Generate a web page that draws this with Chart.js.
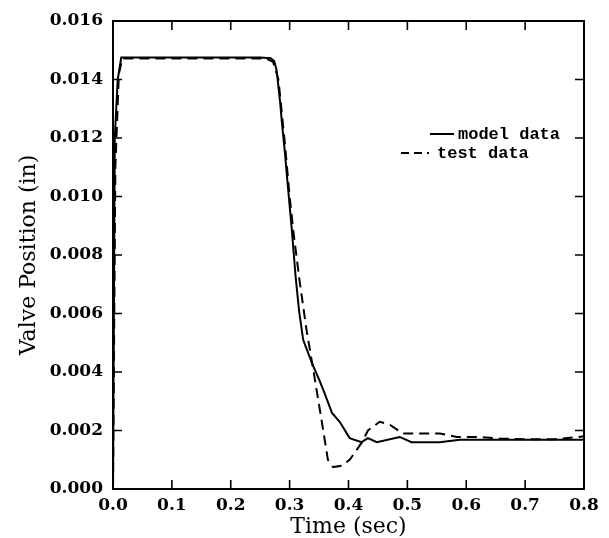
<!DOCTYPE html>
<html>
<head>
<meta charset="utf-8">
<script src="https://cdn.jsdelivr.net/npm/chart.js@4.4.1/dist/chart.umd.min.js"></script>
<style>
  html, body { margin: 0; padding: 0; background: #fff; }
  #wrap { width: 609px; height: 538px; }
</style>
</head>
<body>
<div id="wrap"><canvas id="myChart" width="609" height="538"></canvas></div>
<script>
// model data (solid)
var modelTime = [0, 0.003, 0.008, 0.014, 0.05, 0.1, 0.15, 0.2, 0.25, 0.268, 0.274, 0.278, 0.284, 0.287, 0.292, 0.295, 0.304, 0.310, 0.316, 0.323, 0.338, 0.351, 0.357, 0.372, 0.385, 0.402, 0.422, 0.433, 0.448, 0.487, 0.507, 0.555, 0.589, 0.65, 0.7, 0.75, 0.8];
var modelValue = [0, 0.012, 0.014, 0.01475, 0.01475, 0.01475, 0.01475, 0.01475, 0.01475, 0.01473, 0.01462, 0.0143, 0.0132, 0.0125, 0.0115, 0.0108, 0.0088, 0.0073, 0.0061, 0.0051, 0.0043, 0.0037, 0.0034, 0.0026, 0.0023, 0.00174, 0.0016, 0.00174, 0.0016, 0.00178, 0.0016, 0.0016, 0.00168, 0.00168, 0.00168, 0.00168, 0.00168];

// test data (dashed)
var testTime = [0, 0.004, 0.01, 0.016, 0.1, 0.2, 0.26, 0.272, 0.281, 0.292, 0.300, 0.307, 0.317, 0.329, 0.34, 0.355, 0.365, 0.374, 0.389, 0.402, 0.423, 0.433, 0.453, 0.47, 0.492, 0.509, 0.555, 0.584, 0.62, 0.66, 0.7, 0.75, 0.8];
var testValue = [0, 0.011, 0.0142, 0.01472, 0.01472, 0.01472, 0.01472, 0.0146, 0.0140, 0.0118, 0.0100, 0.0087, 0.0071, 0.0054, 0.0041, 0.00226, 0.0010, 0.00075, 0.0008, 0.0010, 0.0016, 0.0020, 0.0023, 0.0022, 0.0019, 0.0019, 0.0019, 0.00178, 0.00178, 0.00172, 0.0017, 0.0017, 0.0018];

var xTicks = [0, 0.1, 0.2, 0.3, 0.4, 0.5, 0.6, 0.7, 0.8];
var yTicks = [0, 0.002, 0.004, 0.006, 0.008, 0.010, 0.012, 0.014, 0.016];
var seriesNames = ['model data', 'test data'];

function toPoints(xs, ys) {
    return xs.map(function(x, i) { return {x: x, y: ys[i]}; });
}

var tickFont = {family: 'DejaVu Serif', weight: 'bold', size: 17};
var titleFont = {family: 'DejaVu Serif', size: 22};

// frame, inward ticks and legend
var framePlugin = {
    id: 'frame',
    afterDraw: function(chart) {
        var ctx = chart.ctx;
        var a = chart.chartArea;
        var xs = chart.scales.x, ys = chart.scales.y;
        ctx.save();
        ctx.strokeStyle = '#000';
        ctx.lineWidth = 2;
        ctx.strokeRect(a.left, a.top, a.right - a.left, a.bottom - a.top);
        ctx.lineWidth = 1.6;
        var len = 9;
        xTicks.forEach(function(v) {
            var px = xs.getPixelForValue(v);
            ctx.beginPath();
            ctx.moveTo(px, a.bottom); ctx.lineTo(px, a.bottom - len);
            ctx.moveTo(px, a.top); ctx.lineTo(px, a.top + len);
            ctx.stroke();
        });
        yTicks.forEach(function(v) {
            var py = ys.getPixelForValue(v);
            ctx.beginPath();
            ctx.moveTo(a.left, py); ctx.lineTo(a.left + len, py);
            ctx.moveTo(a.right, py); ctx.lineTo(a.right - len, py);
            ctx.stroke();
        });

        // legend
        ctx.lineWidth = 2;
        ctx.font = 'bold 17px "Liberation Mono"';
        ctx.fillStyle = '#000';
        ctx.textBaseline = 'middle';
        ctx.beginPath();
        ctx.setLineDash([]);
        ctx.moveTo(430, 134); ctx.lineTo(454, 134);
        ctx.stroke();
        ctx.fillText(seriesNames[0], 458, 135);
        ctx.beginPath();
        ctx.setLineDash([8, 5]);
        ctx.moveTo(401, 153); ctx.lineTo(429, 153);
        ctx.stroke();
        ctx.setLineDash([]);
        ctx.fillText(seriesNames[1], 437, 154);
        ctx.restore();
    }
};

new Chart(document.getElementById('myChart'), {
    type: 'line',
    data: {
        datasets: [
            {
                label: seriesNames[0],
                data: toPoints(modelTime, modelValue),
                borderColor: '#000',
                borderWidth: 2,
                pointRadius: 0,
                tension: 0,
                fill: false
            },
            {
                label: seriesNames[1],
                data: toPoints(testTime, testValue),
                borderColor: '#000',
                borderWidth: 2,
                borderDash: [10, 6],
                pointRadius: 0,
                tension: 0,
                fill: false
            }
        ]
    },
    options: {
        responsive: false,
        animation: false,
        events: [],
        layout: {padding: {top: 21, right: 25, left: 0, bottom: 0}},
        plugins: {legend: {display: false}, tooltip: {enabled: false}},
        scales: {
            x: {
                type: 'linear',
                min: 0, max: 0.8,
                afterFit: function(s) { s.height = 49; },
                afterBuildTicks: function(s) { s.ticks = xTicks.map(function(v) { return {value: v}; }); },
                grid: {display: false, drawTicks: false},
                border: {display: false},
                ticks: {
                    color: '#000', font: tickFont, padding: 6, maxRotation: 0, autoSkip: false,
                    callback: function(v) { return v.toFixed(1); }
                },
                title: {display: true, text: 'Time (sec)', color: '#000', font: titleFont, padding: {top: 0, bottom: -2}}
            },
            y: {
                type: 'linear',
                min: 0, max: 0.016,
                afterFit: function(s) { s.width = 113; },
                afterBuildTicks: function(s) { s.ticks = yTicks.map(function(v) { return {value: v}; }); },
                grid: {display: false, drawTicks: false},
                border: {display: false},
                ticks: {
                    color: '#000', font: tickFont, padding: 10, autoSkip: false,
                    callback: function(v) { return v.toFixed(3); }
                },
                title: {display: true, text: 'Valve Position (in)', color: '#000', font: titleFont, padding: {top: 16, bottom: 0}}
            }
        }
    },
    plugins: [framePlugin]
});
</script>
</body>
</html>
